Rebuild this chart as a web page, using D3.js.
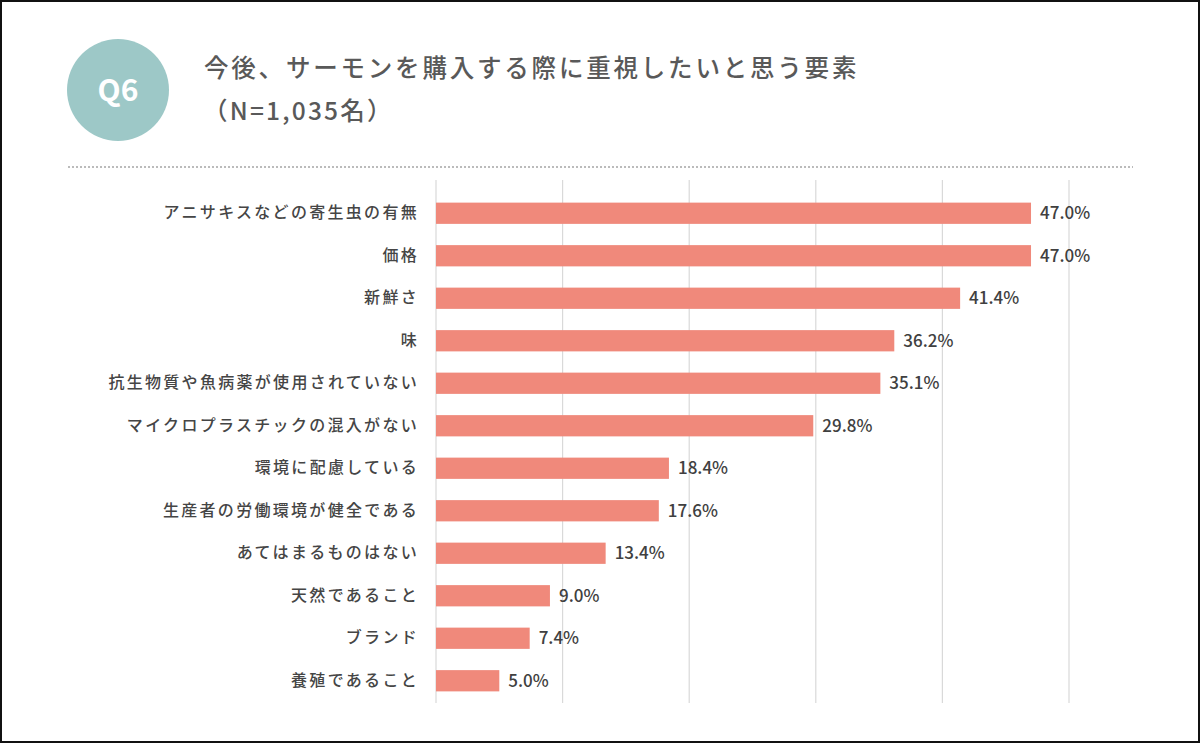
<!DOCTYPE html>
<html><head><meta charset="utf-8">
<script src="https://cdn.jsdelivr.net/npm/d3@7/dist/d3.min.js"></script>
<style>
html,body{margin:0;padding:0;background:#fff;}
svg{display:block;font-family:"Noto Sans CJK JP","Noto Sans",sans-serif;}
</style></head>
<body>
<svg id="chart" width="1200" height="743"></svg>
<script>
const categories = ["アニサキスなどの寄生虫の有無","価格","新鮮さ","味","抗生物質や魚病薬が使用されていない","マイクロプラスチックの混入がない","環境に配慮している","生産者の労働環境が健全である","あてはまるものはない","天然であること","ブランド","養殖であること"];
const values = [47.0,47.0,41.4,36.2,35.1,29.8,18.4,17.6,13.4,9.0,7.4,5.0];
const ticks = [0,10,20,30,40,50];
const titleText = "今後、サーモンを購入する際に重視したいと思う要素";
const subText = "（N=1,035名）";

const svg = d3.select("#chart");
const W = 1200, H = 743;

svg.append("rect").attr("x",1).attr("y",1).attr("width",W-2).attr("height",H-2)
  .attr("fill","#fff").attr("stroke","#111").attr("stroke-width",2);

// header
svg.append("circle").attr("cx",118).attr("cy",90).attr("r",51).attr("fill","#9dc8c7");
svg.append("text").attr("x",118).attr("y",101).attr("text-anchor","middle")
  .attr("fill","#fff").attr("font-size",30).attr("font-weight",700).text("Q6");
svg.append("text").attr("x",204).attr("y",77).attr("fill","#595959")
  .attr("font-size",24.5).attr("font-weight",500).attr("letter-spacing",2.8).text(titleText);
svg.append("text").attr("x",203).attr("y",120).attr("fill","#595959")
  .attr("font-size",24.5).attr("font-weight",500).attr("letter-spacing",2.2).text(subText);
svg.append("line").attr("x1",68).attr("x2",1133).attr("y1",167).attr("y2",167)
  .attr("stroke","#bbb").attr("stroke-width",2).attr("stroke-dasharray","2,2");

// chart
const x = d3.scaleLinear().domain([0,50]).range([436,1069]);
const y = d3.scaleBand().domain(categories).range([192,702]).paddingInner(0.5).paddingOuter(0.25);

const g = svg.append("g");
g.selectAll(".grid").data(ticks).join("line")
  .attr("x1",d=>x(d)).attr("x2",d=>x(d)).attr("y1",180).attr("y2",703)
  .attr("stroke","#d9d9d9").attr("stroke-width",1.2);

g.selectAll(".bar").data(values).join("rect")
  .attr("x",x(0)).attr("y",(d,i)=>y(categories[i]))
  .attr("width",d=>x(d)-x(0)).attr("height",y.bandwidth())
  .attr("fill","#f0897b");

g.selectAll(".val").data(values).join("text")
  .attr("x",d=>x(d)+9).attr("y",(d,i)=>y(categories[i])+y.bandwidth()/2)
  .attr("dy","0.36em").attr("font-size",17).attr("font-weight",500).attr("fill","#404040")
  .text(d=>d.toFixed(1)+"%");

const yAxis = d3.axisLeft(y).tickSize(0).tickPadding(0);
const ax = svg.append("g").attr("transform","translate(419,0)").call(yAxis);
ax.select(".domain").remove();
ax.selectAll("text").attr("font-size",16).attr("fill","#454545").attr("font-weight",500)
  .attr("letter-spacing",2.3).attr("font-family","Noto Sans CJK JP");
</script>
</body></html>
